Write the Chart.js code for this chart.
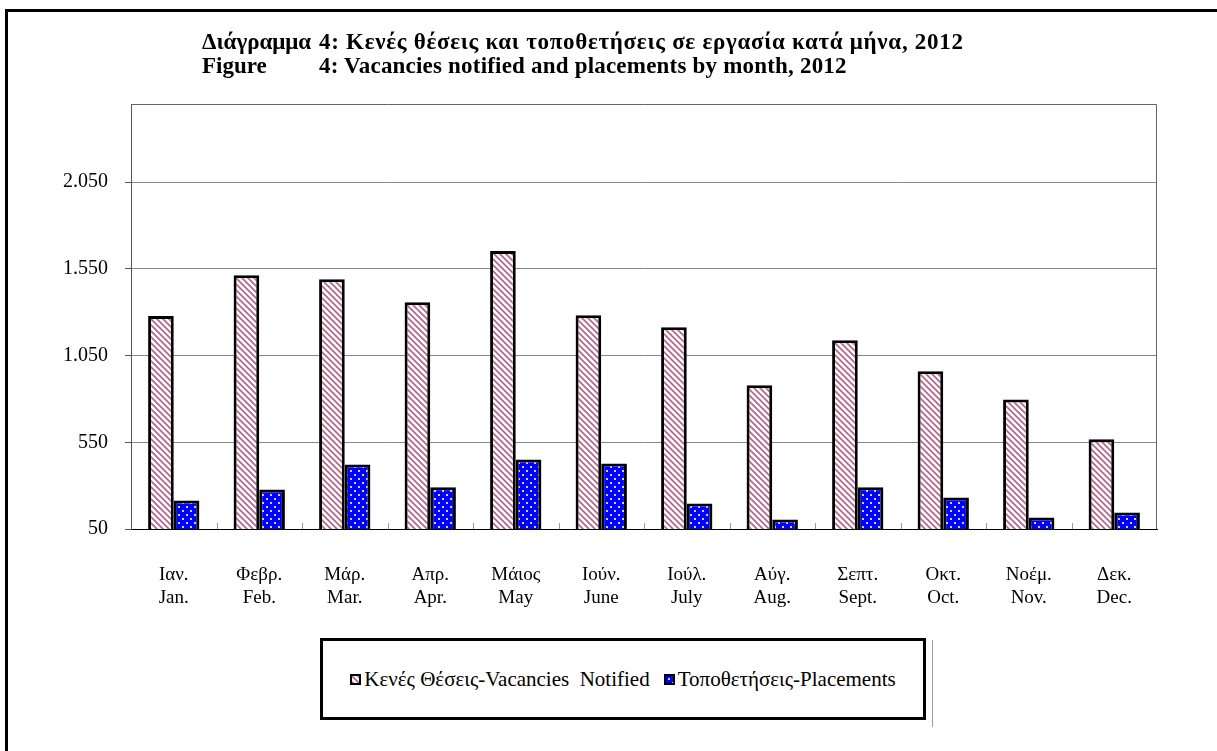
<!DOCTYPE html>
<html>
<head>
<meta charset="utf-8">
<script src="https://cdn.jsdelivr.net/npm/chart.js@4.4.1/dist/chart.umd.min.js"></script>
<style>
  @font-face { font-family: "GreekSerif"; src: local("DejaVu Serif"), local("DejaVuSerif");
               unicode-range: U+0370-03FF, U+1F00-1FFF; size-adjust: 88%; font-weight: normal; }
  @font-face { font-family: "GreekSerif"; src: local("DejaVu Serif Bold"), local("DejaVuSerif-Bold");
               unicode-range: U+0370-03FF, U+1F00-1FFF; size-adjust: 88%; font-weight: bold; }
  html, body { margin: 0; padding: 0; background: #fff; overflow: hidden; }
  #page { position: relative; width: 1217px; height: 751px; }
  #frame { position: absolute; left: 5px; top: 9px; width: 1300px; height: 800px;
           border-left: 3px solid #000; border-top: 3px solid #000; }
  #chartBox { position: absolute; left: 0; top: 0; width: 1217px; height: 751px; }
  .title { position: absolute; left: 202px; top: 30px; width: 900px;
           font: bold 23px "Liberation Serif", "GreekSerif", serif; line-height: 24px; color: #000; }
  .title .row { position: relative; height: 24px; }
  .title .lab, .title .txt { position: absolute; top: 0; white-space: pre; }
  .title .lab { left: 0; }
  .title .txt { left: 117px; }
  #legend { position: absolute; left: 320px; top: 638px; width: 606px; height: 82px; box-sizing: border-box;
            border: 3px solid #000; display: flex; align-items: center; justify-content: center;
            font: 21px "Liberation Serif", "GreekSerif", serif; color: #000; background: #fff; }
  #legend .item { display: flex; align-items: center; margin: 0 7px; white-space: pre; }
  #legend .sw { width: 7px; height: 7px; border: 2px solid #000; margin-right: 3px; }
  #legendShade { position: absolute; left: 932px; top: 640px; width: 1px; height: 87px; background: #999; }
</style>
</head>
<body>
<div id="page">
  <div id="frame"></div>
  <div id="chartBox"><canvas id="myChart" width="1217" height="751"></canvas></div>
  <div class="title"><div class="row"><span class="lab">Διάγραμμα</span><span class="txt" data-end="964">4: Κενές θέσεις και τοποθετήσεις σε εργασία κατά μήνα, 2012</span></div><div class="row"><span class="lab">Figure</span><span class="txt" data-end="847">4: Vacancies notified and placements by month, 2012</span></div></div>
  <div id="legendShade"></div>
  <div id="legend"></div>
</div>
<script>
const months = [
    ['Ιαν.', 'Jan.'], ['Φεβρ.', 'Feb.'], ['Μάρ.', 'Mar.'], ['Απρ.', 'Apr.'],
    ['Μάιος', 'May'], ['Ιούν.', 'June'], ['Ιούλ.', 'July'], ['Αύγ.', 'Aug.'],
    ['Σεπτ.', 'Sept.'], ['Οκτ.', 'Oct.'], ['Νοέμ.', 'Nov.'], ['Δεκ.', 'Dec.']
];
const vacancies = [1278, 1513, 1490, 1357, 1652, 1282, 1213, 878, 1138, 959, 797, 567];
const placements = [214, 278, 422, 290, 451, 428, 197, 105, 290, 232, 116, 145];
const seriesNames = ['Κενές Θέσεις-Vacancies  Notified', 'Τοποθετήσεις-Placements'];
const yTicks = [50, 550, 1050, 1550, 2050];
const yMin = 50;
const yMax = 2500;

const fontStack = '"Liberation Serif", "GreekSerif", serif';

function formatNumber(v) {
    return String(v).replace(/\B(?=(\d{3})+(?!\d))/g, '.');
}

// pattern tiles for the two series
function stripeTile() {
    let c = document.createElement('canvas');
    c.width = c.height = 6;
    let g = c.getContext('2d');
    g.fillStyle = '#fff';
    g.fillRect(0, 0, 6, 6);
    g.strokeStyle = '#b4628a';
    g.lineWidth = 1.6;
    g.beginPath();
    g.moveTo(-1, -1); g.lineTo(7, 7);
    g.moveTo(-1, 5); g.lineTo(1, 7);
    g.moveTo(5, -1); g.lineTo(7, 1);
    g.stroke();
    return c;
}

function dotTile() {
    let c = document.createElement('canvas');
    c.width = c.height = 8;
    let g = c.getContext('2d');
    g.fillStyle = '#0000ff';
    g.fillRect(0, 0, 8, 8);
    g.fillStyle = '#d0d0ff';
    g.fillRect(2, 2, 2, 2);
    g.fillRect(6, 6, 2, 2);
    return c;
}

// small spacing tweak so title lines end where the original ones do
function fitTitle() {
    document.querySelectorAll('.title .txt').forEach(function (el) {
        el.style.letterSpacing = '0px';
        let r = el.getBoundingClientRect();
        let want = Number(el.dataset.end) - r.left;
        let ls = (want - r.width) / el.textContent.length;
        ls = Math.max(-0.6, Math.min(0.8, ls));
        el.style.letterSpacing = ls.toFixed(2) + 'px';
    });
}

const plotFrame = {
    id: 'plotFrame',
    beforeDatasetsDraw(chart) {
        const { ctx, chartArea: a, scales: { x } } = chart;
        ctx.save();
        ctx.lineWidth = 1;
        ctx.strokeStyle = '#666';
        ctx.beginPath();
        ctx.moveTo(a.left, a.top + 0.5);
        ctx.lineTo(a.right - 0.5, a.top + 0.5);
        ctx.lineTo(a.right - 0.5, a.bottom);
        ctx.stroke();
        ctx.strokeStyle = '#999';
        ctx.beginPath();
        for (let i = 1; i < months.length; i++) {
            let px = Math.round((x.getPixelForTick(i - 1) + x.getPixelForTick(i)) / 2) + 0.5;
            ctx.moveTo(px, a.bottom);
            ctx.lineTo(px, a.bottom - 6);
        }
        ctx.stroke();
        ctx.restore();
    }
};

function drawChart() {
    const ctx = document.getElementById('myChart').getContext('2d');
    const tiles = [stripeTile(), dotTile()];
    const fills = tiles.map(t => ctx.createPattern(t, 'repeat'));

    const legendEl = document.getElementById('legend');
    seriesNames.forEach(function (name, i) {
        let item = document.createElement('div');
        item.className = 'item';
        item.innerHTML = `<span class="sw" style="background-image:url(${tiles[i].toDataURL()})"></span><span>${name}</span>`;
        legendEl.appendChild(item);
    });

    fitTitle();

    new Chart(ctx, {
        type: 'bar',
        data: {
            labels: months,
            datasets: [{
                label: seriesNames[0],
                data: vacancies,
                backgroundColor: fills[0],
                borderColor: '#000',
                borderWidth: 3,
                borderSkipped: false
            }, {
                label: seriesNames[1],
                data: placements,
                backgroundColor: fills[1],
                borderColor: '#000',
                borderWidth: 3,
                borderSkipped: false
            }]
        },
        options: {
            responsive: false,
            animation: false,
            layout: { padding: { top: 104, right: 60, left: 0, bottom: 0 } },
            datasets: { bar: { categoryPercentage: 0.6, barPercentage: 1.0 } },
            plugins: { legend: { display: false }, tooltip: { enabled: false } },
            scales: {
                x: {
                    grid: { display: false },
                    border: { display: true, color: '#000', width: 1 },
                    ticks: { color: '#000', font: { family: fontStack, size: 19 }, padding: 27, maxRotation: 0 },
                    afterFit(scale) { scale.height = 222; }
                },
                y: {
                    min: yMin,
                    max: yMax,
                    grid: { color: '#888', tickColor: '#555', tickLength: 6 },
                    border: { display: true, color: '#555', width: 1 },
                    ticks: { color: '#000', font: { family: fontStack, size: 20 }, padding: 17,
                             callback: v => formatNumber(v) },
                    afterBuildTicks(scale) { scale.ticks = yTicks.map(v => ({ value: v })); },
                    afterFit(scale) { scale.width = 131; }
                }
            }
        },
        plugins: [plotFrame]
    });
}

Promise.all([
    document.fonts.load('19px GreekSerif', 'Ιαν'),
    document.fonts.load('bold 23px GreekSerif', 'Ιαν')
]).catch(function () {}).then(drawChart);
</script>
</body>
</html>
